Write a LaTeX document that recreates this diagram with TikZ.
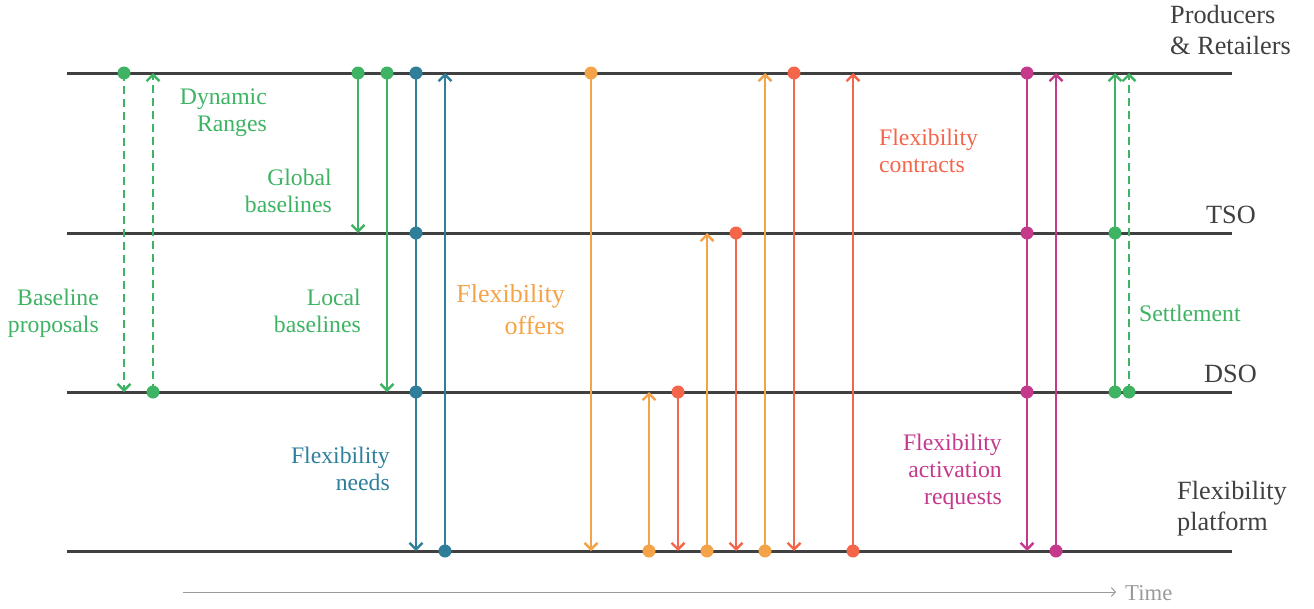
\documentclass[tikz,border=0pt]{standalone}
\usepackage{fontspec}
\setmainfont{Liberation Serif}
\usetikzlibrary{arrows.meta}
\definecolor{lanegray}{HTML}{404040}
\definecolor{cgreen}{HTML}{3DB363}
\definecolor{cblue}{HTML}{2F7F9B}
\definecolor{corange}{HTML}{F5A348}
\definecolor{cred}{HTML}{F4654A}
\definecolor{cmag}{HTML}{C4398C}
\definecolor{ctime}{HTML}{9A9A9A}
\tikzset{
  lane/.style={line width=3pt, draw=lanegray},
  msg/.style={line width=2.4pt, -{Straight Barb[length=6.5pt,width=13pt]}},
  dsh/.style={dash pattern=on 8pt off 5pt},
  dot/.style={circle, fill=#1, inner sep=0pt, minimum size=13pt},
  lbl/.style={font=\fontsize{23.7}{27}\selectfont, inner sep=0pt},
  big/.style={font=\fontsize{26.3}{31}\selectfont, inner sep=0pt, text=lanegray},
}
\begin{document}
\begin{tikzpicture}[x=1pt,y=-1pt]
\useasboundingbox (0,0) rectangle (1314,608);
% lanes
\foreach \n/\y in {PR/73,TSO/233,DSO/392,FP/551}{
  \coordinate (\n l) at (67,\y);
  \coordinate (\n r) at (1232,\y);
}
\draw[lane] (PRl) -- (PRr);
\draw[lane] (TSOl) -- (TSOr);
\draw[lane] (DSOl) -- (DSOr);
\draw[lane] (FPl) -- (FPr);
% coordinates of message ends
\coordinate (a1) at (124,73);  \coordinate (a1e) at (124,392);
\coordinate (a2) at (153,392); \coordinate (a2e) at (153,73);
\coordinate (a3) at (358,73);  \coordinate (a3e) at (358,233);
\coordinate (a4) at (387,73);  \coordinate (a4e) at (387,392);
\coordinate (b1) at (416,73);  \coordinate (b1t) at (416,233); \coordinate (b1d) at (416,392); \coordinate (b1e) at (416,551);
\coordinate (b2) at (445,551); \coordinate (b2e) at (445,73);
\coordinate (o1) at (591,73);  \coordinate (o1e) at (591,551);
\coordinate (o2) at (649,551); \coordinate (o2e) at (649,392);
\coordinate (r1) at (678,392); \coordinate (r1e) at (678,551);
\coordinate (o3) at (707,551); \coordinate (o3e) at (707,233);
\coordinate (r2) at (736,233); \coordinate (r2e) at (736,551);
\coordinate (o4) at (765,551); \coordinate (o4e) at (765,73);
\coordinate (r3) at (794,73);  \coordinate (r3e) at (794,551);
\coordinate (r4) at (853,551); \coordinate (r4e) at (853,73);
\coordinate (m1) at (1027,73); \coordinate (m1t) at (1027,233); \coordinate (m1d) at (1027,392); \coordinate (m1e) at (1027,551);
\coordinate (m2) at (1056,551); \coordinate (m2e) at (1056,73);
\coordinate (s1) at (1115,392); \coordinate (s1t) at (1115,233); \coordinate (s1e) at (1115,73);
\coordinate (s2) at (1129,392); \coordinate (s2e) at (1129,73);
% messages
\draw[msg, dsh, cgreen] (a1) -- (a1e);
\draw[msg, dsh, cgreen] (a2) -- (a2e);
\draw[msg, cgreen] (a3) -- (a3e);
\draw[msg, cgreen] (a4) -- (a4e);
\draw[msg, cblue] (b1) -- (b1e);
\draw[msg, cblue] (b2) -- (b2e);
\draw[msg, corange] (o1) -- (o1e);
\draw[msg, corange] (o2) -- (o2e);
\draw[msg, cred] (r1) -- (r1e);
\draw[msg, corange] (o3) -- (o3e);
\draw[msg, cred] (r2) -- (r2e);
\draw[msg, corange] (o4) -- (o4e);
\draw[msg, cred] (r3) -- (r3e);
\draw[msg, cred] (r4) -- (r4e);
\draw[msg, cmag] (m1) -- (m1e);
\draw[msg, cmag] (m2) -- (m2e);
\draw[msg, cgreen] (s1) -- (s1e);
\draw[msg, dsh, cgreen] (s2) -- (s2e);
% dots
\foreach \c/\col in {a1/cgreen,a2/cgreen,a3/cgreen,a4/cgreen,s1/cgreen,s1t/cgreen,s2/cgreen,
  b1/cblue,b1t/cblue,b1d/cblue,b2/cblue,
  o1/corange,o2/corange,o3/corange,o4/corange,
  r1/cred,r2/cred,r3/cred,r4/cred,
  m1/cmag,m1t/cmag,m1d/cmag,m2/cmag}{
  \node[dot=\col] (\c dot) at (\c) {};
}
% message labels
\node[lbl, text=cgreen, align=right, anchor=east] (lbp) at (99,313) {Baseline\\proposals};
\node[lbl, text=cgreen, align=right, anchor=east] (ldr) at (267,113) {Dynamic\\Ranges};
\node[lbl, text=cgreen, align=right, anchor=east] (lgb) at (332,191) {Global\\baselines};
\node[lbl, text=cgreen, align=right, anchor=east] (llb) at (361,311) {Local\\baselines};
\node[lbl, text=cblue, align=right, anchor=east] (lfn) at (390,469) {Flexibility\\needs};
\node[inner sep=0pt, font=\fontsize{26}{32}\selectfont, text=corange, align=right, anchor=east] (lfo) at (565,310) {Flexibility\\offers};
\node[lbl, text=cred, align=left, anchor=west] (lfc) at (879,151) {Flexibility\\contracts};
\node[lbl, text=cmag, align=right, anchor=east] (lfa) at (1002,472) {Flexibility\\activation\\requests};
\node[lbl, text=cgreen, anchor=base west] (lst) at (1139,321) {Settlement};
% lane labels
\node[big, align=left, anchor=west] (nPR) at (1170,30) {Producers\\\& Retailers};
\node[big, anchor=base east] (nTSO) at (1256,223) {TSO};
\node[big, anchor=base east] (nDSO) at (1257,382) {DSO};
\node[big, align=left, anchor=west] (nFP) at (1177,509) {Flexibility\\platform};
% time axis
\coordinate (t0) at (183,592);
\coordinate (t1) at (1116,592);
\draw[ctime, line width=1pt, -{Straight Barb[length=4pt,width=9pt]}] (t0) -- (t1);
\node[inner sep=0pt, font=\fontsize{22.7}{27}\selectfont, text=ctime, anchor=base west] (ntime) at (1125,600) {Time};
\end{tikzpicture}
\end{document}
